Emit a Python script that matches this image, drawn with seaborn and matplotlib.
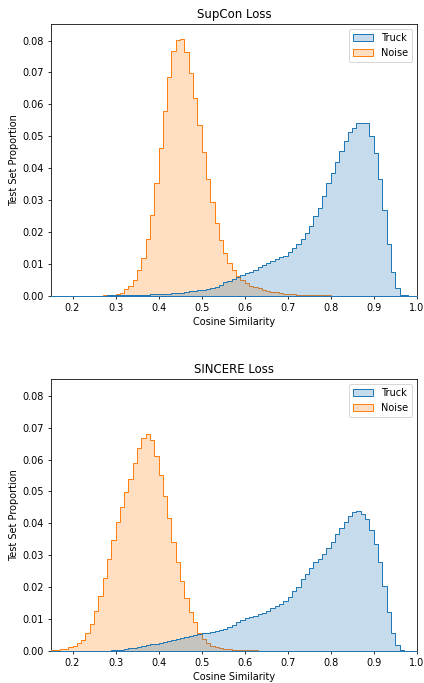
import numpy as np
import pandas as pd
import matplotlib
matplotlib.use("Agg")
import matplotlib.pyplot as plt
import seaborn as sns

# Histogram bins: 85 bins of width 0.01 over 0.15 ... 1.0
bin_range = (0.15, 1.0)
n_bins = 85
bin_edges = np.linspace(bin_range[0], bin_range[1], n_bins + 1)

classes = ["Truck", "Noise"]
titles = ["SupCon Loss", "SINCERE Loss"]

# Bin proportions (bins 0.15 ... 0.99)
supcon_truck = [
    0, 0, 0, 0, 0, 0, 0, 0, 0, 0, 0, 0, 0,            # 0.15-0.27
    0.0001, 0.0001, 0.0001, 0.0001, 0.0002, 0.0002,    # 0.28-0.33
    0.0003, 0.0003, 0.0004, 0.0004, 0.0005, 0.0005,    # 0.34-0.39
    0.0006, 0.0006, 0.0007, 0.0008, 0.0009, 0.0010,    # 0.40-0.45
    0.0011, 0.0014, 0.0016, 0.0017, 0.0019, 0.0022,    # 0.46-0.51
    0.0026, 0.0029, 0.0034, 0.0042, 0.0046, 0.0052,    # 0.52-0.57
    0.0060, 0.0067, 0.0071, 0.0076, 0.0081, 0.0090,    # 0.58-0.63
    0.0097, 0.0103, 0.0110, 0.0117, 0.0123, 0.0127,    # 0.64-0.69
    0.0138, 0.0151, 0.0164, 0.0178, 0.0198, 0.0220,    # 0.70-0.75
    0.0251, 0.0278, 0.0314, 0.0355, 0.0386, 0.0423,    # 0.76-0.81
    0.0457, 0.0488, 0.0517, 0.0528, 0.0544, 0.0545,    # 0.82-0.87
    0.0545, 0.0504, 0.0449, 0.0368, 0.0271, 0.0162,    # 0.88-0.93
    0.0074, 0.0026, 0.0003, 0.0001, 0, 0,              # 0.94-0.99
]
supcon_noise = [
    0, 0, 0, 0, 0, 0, 0, 0, 0, 0, 0, 0,                # 0.15-0.26
    0.0001, 0.0002, 0.0004, 0.0006, 0.0010, 0.0020,    # 0.27-0.32
    0.0030, 0.0050, 0.0080, 0.0120, 0.0177, 0.0255,    # 0.33-0.38
    0.0355, 0.0463, 0.0580, 0.0687, 0.0767, 0.0803,    # 0.39-0.44
    0.0805, 0.0764, 0.0700, 0.0622, 0.0537, 0.0452,    # 0.45-0.50
    0.0368, 0.0293, 0.0229, 0.0176, 0.0134, 0.0102,    # 0.51-0.56
    0.0081, 0.0063, 0.0050, 0.0040, 0.0032, 0.0028,    # 0.57-0.62
    0.0024, 0.0019, 0.0016, 0.0013, 0.0011, 0.0009,    # 0.63-0.68
    0.0007, 0.0006, 0.0005, 0.0004, 0.0003, 0.0003,    # 0.69-0.74
    0.0002, 0.0002, 0.0001, 0.0001, 0.0001,            # 0.75-0.79
    0, 0, 0, 0, 0, 0, 0, 0, 0, 0,                      # 0.80-0.89
    0, 0, 0, 0, 0, 0, 0, 0, 0, 0,                      # 0.90-0.99
]
sincere_truck = [
    0, 0, 0, 0, 0, 0, 0, 0, 0, 0, 0, 0,                # 0.15-0.26
    0.0001, 0.0001, 0.0002, 0.0003, 0.0004, 0.0006,    # 0.27-0.32
    0.0008, 0.0010, 0.0012, 0.0015, 0.0018, 0.0021,    # 0.33-0.38
    0.0023, 0.0026, 0.0028, 0.0031, 0.0034, 0.0038,    # 0.39-0.44
    0.0041, 0.0045, 0.0048, 0.0050, 0.0053, 0.0055,    # 0.45-0.50
    0.0057, 0.0059, 0.0061, 0.0064, 0.0068, 0.0074,    # 0.51-0.56
    0.0080, 0.0090, 0.0096, 0.0102, 0.0107, 0.0110,    # 0.57-0.62
    0.0114, 0.0118, 0.0124, 0.0133, 0.0139, 0.0147,    # 0.63-0.68
    0.0156, 0.0168, 0.0186, 0.0201, 0.0226, 0.0240,    # 0.69-0.74
    0.0259, 0.0277, 0.0288, 0.0304, 0.0320, 0.0340,    # 0.75-0.80
    0.0366, 0.0385, 0.0402, 0.0421, 0.0434, 0.0437,    # 0.81-0.86
    0.0428, 0.0413, 0.0377, 0.0335, 0.0278, 0.0204,    # 0.87-0.92
    0.0123, 0.0055, 0.0018, 0.0003, 0, 0, 0,           # 0.93-0.99
]
sincere_noise = [
    0.0002, 0.0003, 0.0005, 0.0007, 0.0011, 0.0017,    # 0.15-0.20
    0.0024, 0.0034, 0.0055, 0.0084, 0.0125, 0.0173,    # 0.21-0.26
    0.0227, 0.0288, 0.0348, 0.0405, 0.0452, 0.0497,    # 0.27-0.32
    0.0537, 0.0588, 0.0635, 0.0667, 0.0678, 0.0659,    # 0.33-0.38
    0.0612, 0.0551, 0.0484, 0.0416, 0.0342, 0.0277,    # 0.39-0.44
    0.0219, 0.0167, 0.0123, 0.0090, 0.0057, 0.0037,    # 0.45-0.50
    0.0024, 0.0016, 0.0011, 0.0008, 0.0006, 0.0005,    # 0.51-0.56
    0.0004, 0.0003, 0.0003, 0.0002, 0.0002, 0.0002,    # 0.57-0.62
    0.0001, 0.0001, 0.0001, 0.0001, 0.0001, 0.0001,    # 0.63-0.68
    0.0001, 0.0001,                                    # 0.69-0.70
    0, 0, 0, 0, 0, 0, 0, 0, 0,                         # 0.71-0.79
    0, 0, 0, 0, 0, 0, 0, 0, 0, 0,                      # 0.80-0.89
    0, 0, 0, 0, 0, 0, 0, 0, 0, 0,                      # 0.90-0.99
]

bin_centers = (bin_edges[:-1] + bin_edges[1:]) / 2


def make_frame(truck, noise):
    return pd.DataFrame({
        "similarity": np.concatenate([bin_centers, bin_centers]),
        "share": np.concatenate([truck, noise]).astype(float),
        "class": [classes[0]] * len(truck) + [classes[1]] * len(noise),
    })


frames = [make_frame(supcon_truck, supcon_noise),
          make_frame(sincere_truck, sincere_noise)]

dpi = 70.67
fig, axes = plt.subplots(2, 1, figsize=(6, 9.665), dpi=dpi)
fig.subplots_adjust(left=0.1203, right=0.9828, top=0.9649, bottom=0.0469,
                    hspace=0.3066)

for ax, df, title in zip(axes, frames, titles):
    sns.histplot(data=df, x="similarity", weights="share", hue="class",
                 hue_order=classes, bins=n_bins, binrange=bin_range,
                 element="step", stat="probability", common_norm=False,
                 ax=ax)
    # draw the step outlines above the spines, keeping their stacking order
    for i, coll in enumerate(ax.collections):
        coll.set_zorder(3 + i)
    for i, line in enumerate(ax.lines):
        line.set_zorder(3.5 + i)
    ax.set_xlim(0.15, 1.0)
    ax.set_ylim(0, 0.0852)
    ax.set_title(title)
    ax.set_xlabel("Cosine Similarity")
    ax.set_ylabel("Test Set Proportion")
    sns.move_legend(ax, "upper right", title=None)

fig.savefig("out.png", dpi=dpi)
